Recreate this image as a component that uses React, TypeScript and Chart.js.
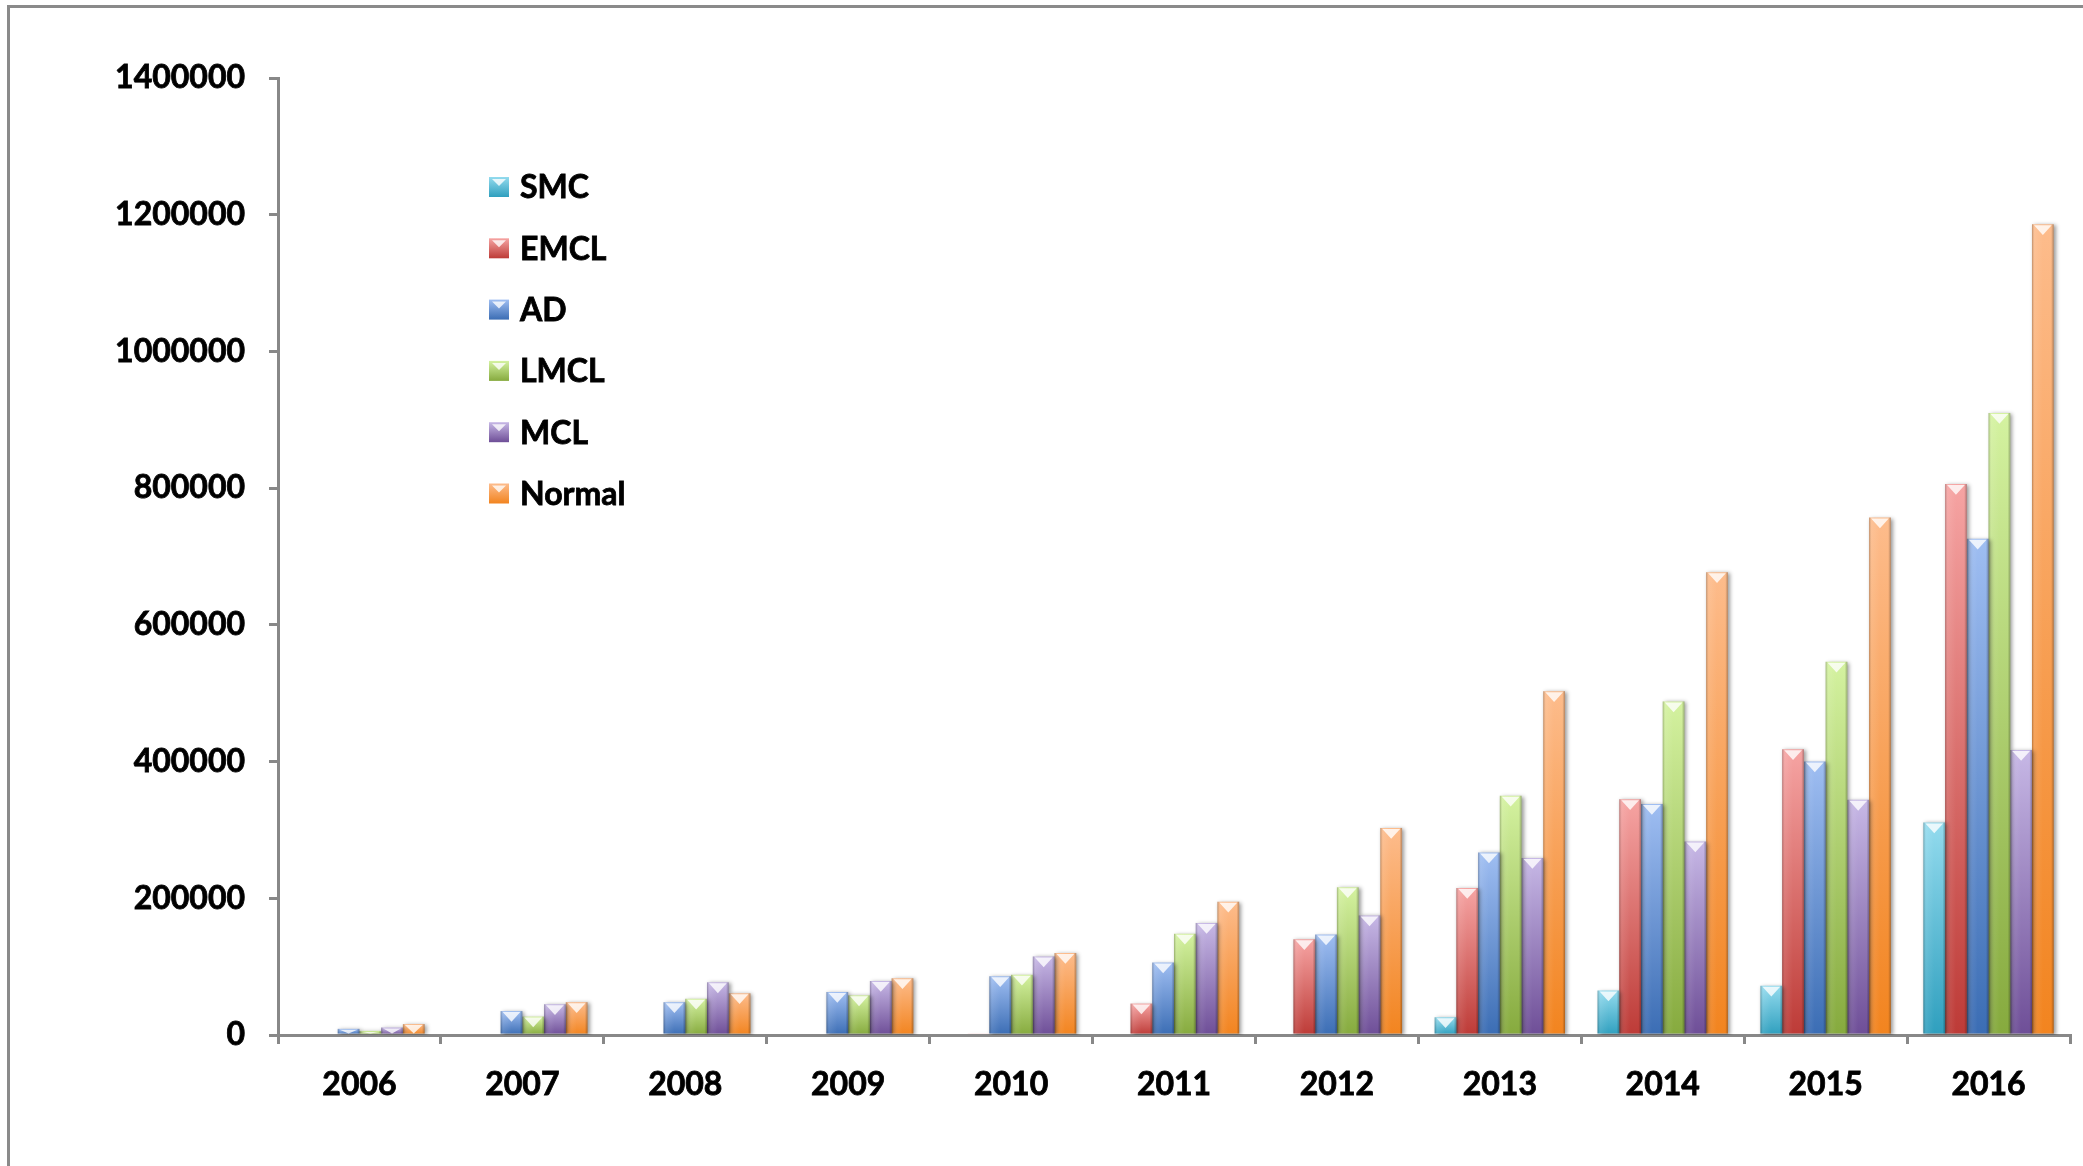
import React, { useEffect, useRef } from 'react';
import { Chart, registerables } from 'chart.js';

Chart.register(...registerables);

// ---------- data ----------
const YEARS = ['2006', '2007', '2008', '2009', '2010', '2011', '2012', '2013', '2014', '2015', '2016'];
const SERIES_NAMES = ['SMC', 'EMCL', 'AD', 'LMCL', 'MCL', 'Normal'];
const SMC = [0, 0, 0, 0, 0, 0, 0, 26000, 65000, 72000, 311000];
const EMCL = [0, 0, 0, 0, 2000, 46000, 140000, 215000, 345000, 418000, 806000];
const AD = [9000, 35000, 48000, 63000, 86000, 106000, 147000, 267000, 338000, 400000, 726000];
const LMCL = [6000, 27000, 53000, 58000, 88000, 148000, 216000, 350000, 488000, 546000, 910000];
const MCL = [11000, 45000, 77000, 79000, 115000, 164000, 175000, 259000, 283000, 344000, 417000];
const NORMAL = [16000, 48000, 61000, 83000, 120000, 195000, 303000, 503000, 677000, 757000, 1186000];
const Y_TICKS = [0, 200000, 400000, 600000, 800000, 1000000, 1200000, 1400000];

// ---------- style ----------
const LIGHT = ['#93DBEE', '#F6A4A3', '#9FBEF2', '#D4F2A0', '#C7B8E6', '#FDBC8C'];
const DARK = ['#2F9FBE', '#BD3B37', '#3B6DB4', '#86AA3E', '#6E4E97', '#F2841F'];
const AXIS = '#888888';
const FONT = 'Lato, "Open Sans", sans-serif';
const FONT_SIZE = 32;
const TEXT_STROKE = 0.8;

const bevelPlugin = {
  id: 'bevel',
  beforeDatasetsDraw(chart: any) {
    const ctx = chart.ctx;
    ctx.save();
    ctx.shadowColor = 'rgba(0,0,0,0.4)';
    ctx.shadowBlur = 4;
    ctx.shadowOffsetX = 2;
    ctx.shadowOffsetY = 1;
  },
  afterDatasetsDraw(chart: any) {
    const ctx = chart.ctx;
    ctx.restore();
    ctx.save();
    chart.data.datasets.forEach((_ds: any, di: number) => {
      const meta = chart.getDatasetMeta(di);
      meta.data.forEach((el: any) => {
        const p = el.getProps(['x', 'y', 'base', 'width'], true);
        const h = p.base - p.y;
        if (h < 1.5) return;
        const left = p.x - p.width / 2;
        const right = p.x + p.width / 2;
        const hg = ctx.createLinearGradient(left, 0, right, 0);
        hg.addColorStop(0, 'rgba(0,0,0,0.25)');
        hg.addColorStop(0.12, 'rgba(255,255,255,0.10)');
        hg.addColorStop(0.5, 'rgba(255,255,255,0)');
        hg.addColorStop(0.88, 'rgba(0,0,0,0)');
        hg.addColorStop(1, 'rgba(0,0,0,0.28)');
        ctx.fillStyle = hg;
        ctx.fillRect(left, p.y, p.width, h);
        const th = Math.min(p.width * 0.45, h - 1);
        ctx.fillStyle = 'rgba(255,255,255,0.8)';
        ctx.beginPath();
        ctx.moveTo(left + 2, p.y + 1);
        ctx.lineTo(right - 2, p.y + 1);
        ctx.lineTo(p.x, p.y + 1 + th);
        ctx.closePath();
        ctx.fill();
      });
    });
    ctx.restore();
  },
};

const legendPlugin = {
  id: 'insideLegend',
  afterDraw(chart: any) {
    const ctx = chart.ctx;
    const x0 = 489;
    const y0 = 187;
    const step = 61.3;
    const size = 20;
    ctx.save();
    chart.data.datasets.forEach((ds: any, i: number) => {
      const cy = y0 + i * step;
      const top = cy - size / 2;
      const g = ctx.createLinearGradient(0, top, 0, top + size);
      g.addColorStop(0, LIGHT[i]);
      g.addColorStop(1, DARK[i]);
      ctx.fillStyle = g;
      ctx.fillRect(x0, top, size, size);
      ctx.fillStyle = 'rgba(255,255,255,0.8)';
      ctx.beginPath();
      ctx.moveTo(x0 + 3, top + 2);
      ctx.lineTo(x0 + size - 3, top + 2);
      ctx.lineTo(x0 + size / 2, top + 9);
      ctx.closePath();
      ctx.fill();
      ctx.fillStyle = '#000';
      ctx.strokeStyle = '#000';
      ctx.lineWidth = TEXT_STROKE;
      ctx.font = `bold ${FONT_SIZE}px ${FONT}`;
      ctx.textBaseline = 'middle';
      ctx.textAlign = 'left';
      ctx.fillText(ds.label, x0 + 31, cy + 1);
      ctx.strokeText(ds.label, x0 + 31, cy + 1);
    });
    ctx.restore();
  },
};

function gradientFill(i: number) {
  return (c: any) => {
    if (c.type !== 'data' || !c.chart.scales || !c.chart.scales.y) return DARK[i];
    const ys = c.chart.scales.y;
    const top = ys.getPixelForValue(c.parsed.y);
    const base = ys.getPixelForValue(0);
    if (!isFinite(top) || !isFinite(base) || base - top < 1) return DARK[i];
    const g = c.chart.ctx.createLinearGradient(0, top, 0, base);
    g.addColorStop(0, LIGHT[i]);
    g.addColorStop(1, DARK[i]);
    return g;
  };
}

export default function App() {
  const canvasRef = useRef<HTMLCanvasElement | null>(null);

  useEffect(() => {
    document.body.style.margin = '0';
    let chart: Chart | null = null;
    let cancelled = false;
    const build = () => {
      if (cancelled || !canvasRef.current) return;
      const series = [SMC, EMCL, AD, LMCL, MCL, NORMAL];
      chart = new Chart(canvasRef.current, {
        type: 'bar',
        data: {
          labels: YEARS,
          datasets: series.map((vals, i) => ({
            label: SERIES_NAMES[i],
            data: vals,
            backgroundColor: gradientFill(i) as any,
            borderWidth: 0,
            categoryPercentage: 0.8,
            barPercentage: 1.0,
          })),
        },
        options: {
          responsive: false,
          animation: false,
          devicePixelRatio: 1,
          layout: { padding: { left: 0, right: 13, top: 78, bottom: 0 } },
          plugins: { legend: { display: false }, tooltip: { enabled: false } },
          scales: {
            x: {
              grid: {
                display: true,
                drawOnChartArea: false,
                drawTicks: true,
                tickLength: 9,
                offset: true,
                color: AXIS,
                lineWidth: 3,
              },
              border: { display: true, color: AXIS, width: 3 },
              ticks: {
                color: '#000',
                textStrokeColor: '#000',
                textStrokeWidth: TEXT_STROKE,
                font: { family: FONT, size: FONT_SIZE, weight: 'bold' },
                padding: 21,
                maxRotation: 0,
                autoSkip: false,
              },
              afterFit: (s: any) => {
                s.height = 1166 - 1035;
              },
            },
            y: {
              min: Y_TICKS[0],
              max: Y_TICKS[Y_TICKS.length - 1],
              afterBuildTicks: (s: any) => {
                s.ticks = Y_TICKS.map((v) => ({ value: v }));
              },
              grid: {
                display: true,
                drawOnChartArea: false,
                drawTicks: true,
                tickLength: 9,
                color: AXIS,
                lineWidth: 3,
              },
              border: { display: true, color: AXIS, width: 3 },
              ticks: {
                color: '#000',
                textStrokeColor: '#000',
                textStrokeWidth: TEXT_STROKE,
                font: { family: FONT, size: FONT_SIZE, weight: 'bold' },
                padding: 24,
                callback: (v: any) => String(v),
              },
              afterFit: (s: any) => {
                s.width = 278;
              },
            },
          },
        },
        plugins: [bevelPlugin, legendPlugin],
      });
    };
    const fontsApi = (document as any).fonts;
    if (fontsApi && fontsApi.load) {
      fontsApi.load(`bold ${FONT_SIZE}px Lato`).then(build, build);
    } else {
      build();
    }
    return () => {
      cancelled = true;
      if (chart) chart.destroy();
    };
  }, []);

  return (
    <div style={{ position: 'fixed', left: 0, top: 0, width: 2083, height: 1166, overflow: 'hidden', background: '#fff' }}>
      <div
        style={{
          position: 'absolute',
          left: 7,
          top: 5,
          width: 2300,
          height: 1400,
          border: '3px solid #8a8a8a',
          boxSizing: 'border-box',
        }}
      />
      <canvas
        ref={canvasRef}
        width={2083}
        height={1166}
        style={{ position: 'absolute', left: 0, top: 0, width: 2083, height: 1166 }}
      />
    </div>
  );
}
